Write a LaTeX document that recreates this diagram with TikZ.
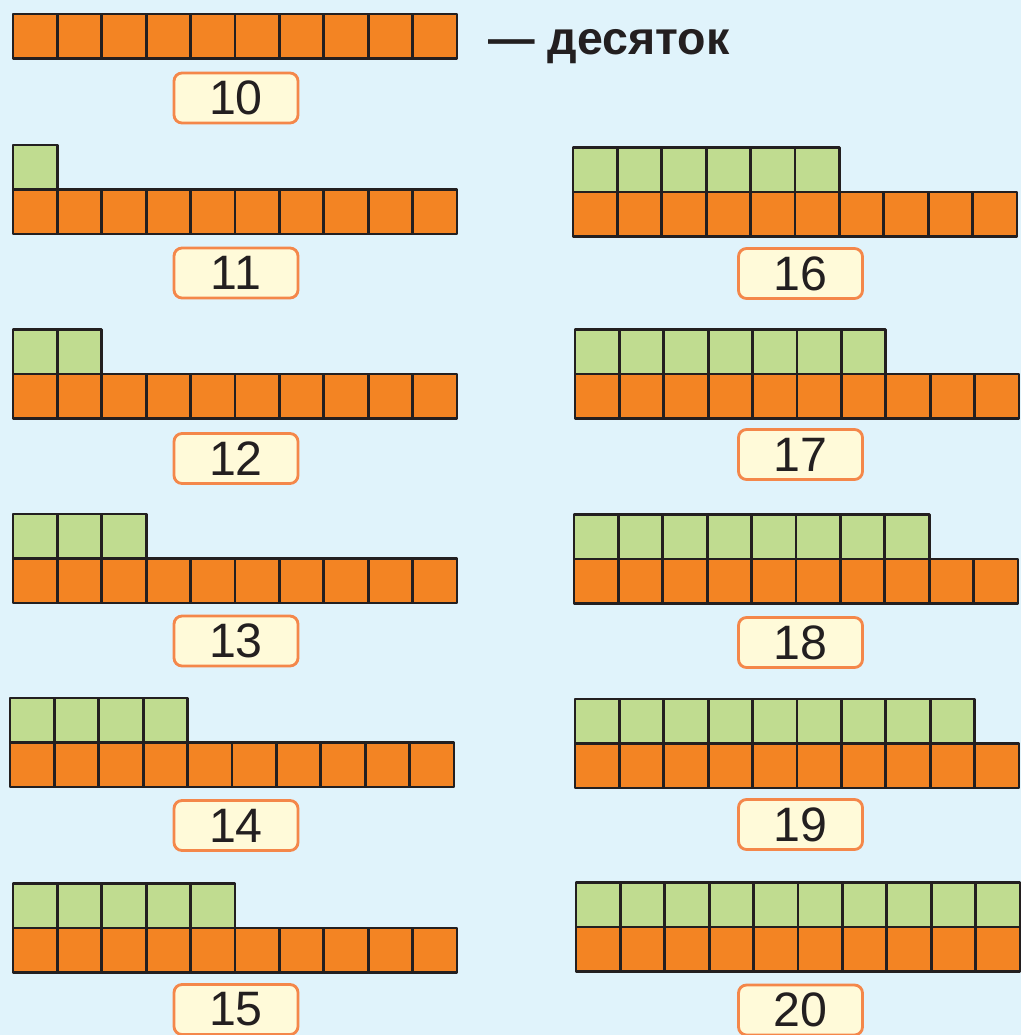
\documentclass[tikz,border=0pt]{standalone}
\usepackage{fontspec}
\setmainfont{Liberation Sans}
\usepackage{tikz}
\usetikzlibrary{positioning}

\definecolor{bgblue}{HTML}{E0F3FB}
\definecolor{orangecell}{HTML}{F38423}
\definecolor{greencell}{HTML}{C0DC90}
\definecolor{gridline}{HTML}{231F20}
\definecolor{boxfill}{HTML}{FFFAD9}
\definecolor{boxedge}{HTML}{F4874A}

\begin{document}
\begin{tikzpicture}[x=0.02cm,y=-0.02cm,
  cell/.style={draw=gridline,line width=1.6pt,line join=round},
  numbox/.style={draw=boxedge,fill=boxfill,line width=1.6pt,rounded corners=0.16cm,
    minimum width=2.48cm,minimum height=1.0cm,inner sep=0pt,
    font=\fontsize{27.5}{27.5}\selectfont,text=gridline}]
\useasboundingbox (0,0) rectangle (1021,1035);
\fill[bgblue] (0,0) rectangle (1021,1035);
\clip (0,0) rectangle (1021,1035);
% x0 / top of orange row / green cells / label centre / number
\foreach \xo/\yo/\ng/\lx/\ly/\lab in {
    13/14/0/236/98/10,
    13/189.5/1/236/273/11,
    13/374/2/236/458.5/12,
    13/558.5/3/236/641/13,
    10/742.5/4/236/825.5/14,
    13/928/5/236/1009.5/15,
    573/192/6/800.5/273.5/16,
    575/374/7/800.5/454.5/17,
    574/559/8/800.5/642.5/18,
    575/743.5/9/800.5/824.5/19,
    576/927/10/800.5/1010/20}{
  \foreach \i in {0,...,9}
    \draw[cell,fill=orangecell] ({\xo+\i*44.4},\yo) rectangle +(44.4,44.5);
  \ifnum\ng>0
    \foreach \i in {1,...,\ng}
      \draw[cell,fill=greencell] ({\xo+(\i-1)*44.4},{\yo-44.5}) rectangle +(44.4,44.5);
  \fi
  \node[numbox] (n\lab) at (\lx,\ly) {\lab};
}
\node[anchor=base west,inner sep=0pt,text=gridline,
  font=\fontsize{26.5}{26.5}\selectfont\bfseries] (tenword) at (488,54) {— десяток};
\end{tikzpicture}
\end{document}
